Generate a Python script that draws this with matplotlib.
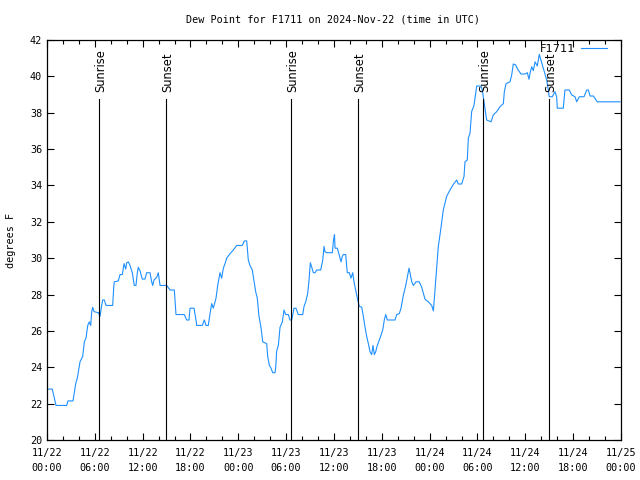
import numpy as np
import pandas as pd
import matplotlib
matplotlib.use('Agg')
import matplotlib.pyplot as plt
import matplotlib.dates as mdates

# Dew point readings, hours since 2024-11-22 00:00 UTC
HOURS = [
    0.09, 0.66, 1.13, 2.47, 2.63, 3.26, 3.6, 3.8, 4.14, 4.48, 4.68, 4.89, 5.11, 5.31, 5.48,
    5.61, 5.73, 5.9, 6.44, 6.65, 6.86, 6.99, 7.19, 7.4, 8.24, 8.37, 8.44, 8.94, 9.16, 9.45,
    9.66, 9.87, 10.0, 10.2, 10.41, 10.7, 10.95, 11.16, 11.33, 11.45, 11.67, 11.95, 12.29, 12.5,
    12.92, 13.13, 13.26, 13.42, 13.76, 13.96, 14.18, 15.02, 15.43, 15.97, 16.18, 17.22, 17.52,
    17.81, 17.94, 18.44, 18.69, 18.78, 19.48, 19.73, 19.95, 20.23, 20.45, 20.66, 20.86, 21.2,
    21.41, 21.7, 21.91, 22.12, 22.33, 22.54, 22.96, 23.37, 23.8, 24.5, 24.75, 25.05, 25.25,
    25.46, 25.75, 25.88, 26.18, 26.38, 26.59, 26.84, 27.06, 27.56, 27.68, 27.89, 28.1, 28.31,
    28.6, 28.69, 28.81, 29.02, 29.23, 29.52, 29.73, 29.94, 30.27, 30.48, 30.7, 30.98, 31.23,
    31.52, 32.08, 32.24, 32.45, 32.7, 32.87, 33.03, 33.21, 33.41, 33.62, 33.83, 34.33, 34.59,
    34.75, 34.87, 35.09, 35.79, 35.94, 36.06, 36.13, 36.42, 36.63, 36.88, 37.04, 37.17, 37.47,
    37.6, 37.67, 37.92, 38.13, 38.35, 38.51, 38.76, 38.98, 39.18, 39.48, 39.68, 39.89, 40.1,
    40.31, 40.52, 40.73, 40.89, 41.06, 41.23, 41.43, 41.77, 42.11, 42.31, 42.49, 42.69, 43.65,
    43.87, 44.19, 44.41, 44.69, 45.0, 45.2, 45.41, 45.53, 45.75, 45.95, 46.29, 46.7, 47.0,
    47.42, 47.83, 48.26, 48.46, 48.58, 48.88, 49.08, 49.38, 49.71, 50.13, 50.55, 50.97, 51.39,
    51.59, 52.02, 52.31, 52.43, 52.72, 52.85, 53.06, 53.27, 53.56, 53.9, 54.44, 54.6, 54.85,
    55.15, 55.7, 55.98, 56.41, 56.82, 57.24, 57.37, 57.58, 58.08, 58.29, 58.49, 58.79, 59.04,
    59.46, 59.96, 60.25, 60.46, 60.59, 60.8, 61.0, 61.22, 61.5, 61.75, 62.05, 62.34, 62.68,
    62.88, 63.0, 63.38, 63.72, 63.93, 64.01, 64.76, 64.97, 65.51, 65.81, 66.23, 66.44, 66.77,
    67.36, 67.7, 67.9, 68.12, 68.53, 69.03, 71.88,
]
DEW_F = [
    22.8, 22.8, 21.9, 21.9, 22.15, 22.15, 23.1, 23.4, 24.3, 24.6, 25.4, 25.6, 26.3, 26.5, 26.3,
    27.06, 27.3, 27.06, 27.0, 26.8, 27.4, 27.7, 27.7, 27.4, 27.4, 28.4, 28.7, 28.75, 29.1, 29.1,
    29.7, 29.4, 29.75, 29.8, 29.6, 29.2, 28.5, 28.5, 29.2, 29.5, 29.3, 28.85, 28.85, 29.2,
    29.2, 28.7, 28.5, 28.8, 28.95, 29.2, 28.5, 28.5, 28.25, 28.25, 26.9, 26.9, 26.6,
    26.6, 27.25, 27.25, 26.6, 26.3, 26.3, 26.6, 26.3, 26.3, 26.95, 27.5, 27.25, 27.8,
    28.5, 29.2, 28.9, 29.45, 29.7, 30.0, 30.25, 30.45, 30.7, 30.7, 30.95, 30.95, 29.9,
    29.6, 29.35, 28.98, 28.15, 27.8, 26.8, 26.2, 25.4, 25.3, 24.6, 24.1, 23.95, 23.7,
    23.7, 24.0, 24.9, 25.2, 26.2, 26.5, 27.15, 26.9, 26.9, 26.6, 26.6, 27.25, 27.25,
    26.9, 26.9, 27.35, 27.6, 28.05, 28.8, 29.75, 29.5, 29.2, 29.2, 29.35, 29.35, 29.9,
    30.65, 30.35, 30.3, 30.3, 31.0, 31.3, 30.55, 30.55, 30.2, 29.8, 30.1, 30.2, 30.2,
    29.5, 29.2, 29.2, 28.9, 29.2, 28.7, 28.15, 27.7, 27.35, 27.3, 26.8, 26.2, 25.7,
    25.3, 24.85, 24.7, 25.2, 24.7, 24.85, 25.2, 25.6, 26.05, 26.6, 26.9, 26.6, 26.6,
    26.9, 26.95, 27.25, 27.95, 28.5, 28.98, 29.45, 29.2, 28.7, 28.5, 28.7, 28.7, 28.4,
    27.74, 27.6, 27.4, 27.1, 27.74, 29.45, 30.63, 31.55, 32.65, 33.4, 33.75, 34.06, 34.3,
    34.08, 34.08, 34.5, 35.3, 35.4, 36.6, 36.87, 38.07, 38.4, 39.47, 39.47, 39.25, 38.5,
    37.6, 37.5, 37.88, 38.06, 38.33, 38.5, 39.16, 39.6, 39.7, 40.08, 40.68, 40.63, 40.39,
    40.13, 40.13, 40.2, 39.84, 40.17, 40.53, 40.31, 40.8, 40.57, 41.21, 40.75, 40.3, 39.8,
    39.25, 38.88, 38.88, 39.16, 38.88, 38.25, 38.25, 39.25, 39.25, 38.98, 38.88, 38.6, 38.88,
    38.88, 39.25, 39.25, 38.92, 38.92, 38.6, 38.6,
]

# Sunrise / sunset markers (hours since start)
EVENT_HOURS = [6.56, 14.97, 30.65, 39.05, 54.73, 63.0]
EVENT_NAMES = ['Sunrise', 'Sunset', 'Sunrise', 'Sunset', 'Sunrise', 'Sunset']

START = pd.Timestamp('2024-11-22 00:00')
END = pd.Timestamp('2024-11-25 00:00')

times = START + pd.to_timedelta(HOURS, unit='h')
event_times = START + pd.to_timedelta(EVENT_HOURS, unit='h')

mono = 'DejaVu Sans Mono'
plt.rcParams['font.family'] = mono
plt.rcParams['font.size'] = 7.3

fig = plt.figure(figsize=(6.4, 4.8), dpi=100)
ax = fig.add_axes([47 / 640, 40 / 480, 574 / 640, 400 / 480])

ax.plot(times, DEW_F, color='#1e90ff', linewidth=0.8, label='F1711')

for t, name in zip(event_times, EVENT_NAMES):
    ax.plot([t, t], [20, 38.75], color='black', linewidth=0.8)
    ax.text(t + pd.Timedelta(minutes=12), 39.15, name, rotation=90, ha='center', va='bottom',
            family='DejaVu Sans', fontsize=8.3)

ax.set_xlim(START, END)
ax.set_ylim(20, 42)
ax.set_yticks(np.arange(20, 43, 2))

ax.xaxis.set_major_locator(mdates.HourLocator(byhour=[0, 6, 12, 18]))
ax.xaxis.set_minor_locator(mdates.HourLocator(byhour=range(0, 24, 2)))
ax.xaxis.set_major_formatter(mdates.DateFormatter('%m/%d\n%H:%M'))

ax.tick_params(which='both', direction='in', top=True, right=True, width=0.8, colors='black')
ax.tick_params(which='major', length=5)
ax.tick_params(which='minor', length=3)
ax.tick_params(axis='x', pad=6)
for lbl in ax.get_xticklabels():
    lbl.set_linespacing(1.6)

for s in ax.spines.values():
    s.set_linewidth(0.9)

ax.set_ylabel('degrees F', labelpad=10)
fig.text(333 / 640, 1 - 19 / 480, 'Dew Point for F1711 on 2024-Nov-22 (time in UTC)',
         ha='center', va='center', fontsize=7.3)

leg = ax.legend(loc='upper right', frameon=False, markerfirst=False, handlelength=2.3,
                handletextpad=0.45, borderaxespad=0.2,
                bbox_to_anchor=(1 - 7 / 574, 1 + 3 / 400),
                prop={'family': 'DejaVu Sans', 'size': 8.2})

fig.savefig('out.png', dpi=100)
